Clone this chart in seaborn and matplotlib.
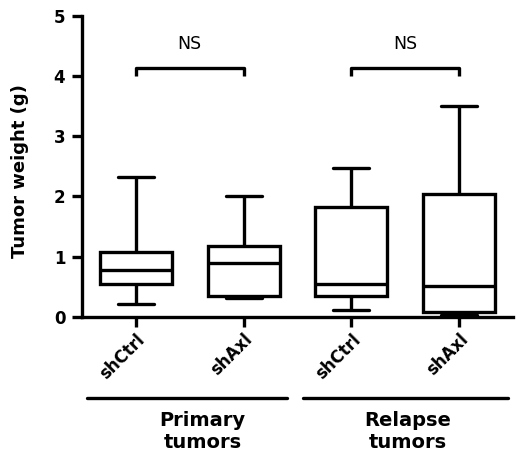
import matplotlib
matplotlib.use("Agg")
import matplotlib.pyplot as plt
import matplotlib.transforms as mtransforms
import seaborn as sns
import pandas as pd

# ---- data ----
categories = ["Primary shCtrl", "Primary shAxl", "Relapse shCtrl", "Relapse shAxl"]
tick_labels = ["shCtrl", "shAxl", "shCtrl", "shAxl"]
box_min = [0.21, 0.31, 0.11, 0.03]
box_q1 = [0.55, 0.35, 0.35, 0.07]
box_median = [0.77, 0.89, 0.55, 0.51]
box_q3 = [1.08, 1.18, 1.82, 2.04]
box_max = [2.33, 2.01, 2.47, 3.50]

group_names = ["Primary\ntumors", "Relapse\ntumors"]
comparisons = [(0, 1, "NS"), (2, 3, "NS")]
y_ticks = [0, 1, 2, 3, 4, 5]

# five values per group reproduce min/q1/median/q3/max exactly
rows = []
for i, c in enumerate(categories):
    for v in (box_min[i], box_q1[i], box_median[i], box_q3[i], box_max[i]):
        rows.append({"group": c, "weight": v})
df = pd.DataFrame(rows)

sns.set_style("ticks")
plt.rcParams["font.family"] = ["DejaVu Sans"]
for k in ["text.color", "axes.labelcolor", "xtick.color", "ytick.color",
          "axes.edgecolor"]:
    plt.rcParams[k] = "black"

fig = plt.figure(figsize=(5.17, 4.57), dpi=100)
ax = fig.add_axes([82 / 517, 1 - 316.7 / 457, 431 / 517, 300.7 / 457])

LW = 2.4
sns.boxplot(data=df, x="group", y="weight", order=categories, whis=(0, 100),
            width=0.67, color="white", linecolor="black", linewidth=LW,
            fliersize=0, ax=ax)

ax.set_xlim(-0.5, 3.5)
ax.set_ylim(0, 5)
ax.set_yticks(y_ticks)
ax.set_yticklabels([str(t) for t in y_ticks], fontweight="bold", fontsize=12)
ax.set_xticks(range(len(categories)))
ax.set_xticklabels(tick_labels, fontweight="bold", fontsize=12, rotation=45,
                   ha="right", va="top", rotation_mode="anchor")

ax.set_xlabel("")
ax.set_ylabel("Tumor weight (g)", fontweight="bold", fontsize=13)
ax.yaxis.set_label_coords(-0.122, 0.485)

for s in ["top", "right"]:
    ax.spines[s].set_visible(False)
for s in ["left", "bottom"]:
    ax.spines[s].set_linewidth(LW)
    ax.spines[s].set_color("black")
ax.tick_params(axis="both", width=LW, length=7, color="black")
ax.tick_params(axis="x", pad=3)
ax.tick_params(axis="y", pad=5)

# significance brackets
for a, b, txt in comparisons:
    ax.plot([a, a, b, b], [4.01, 4.13, 4.13, 4.01], color="black", lw=LW,
            solid_capstyle="butt", clip_on=False)
    ax.text((a + b) / 2, 4.53, txt, ha="center", va="center", fontsize=12.5)

# group lines and labels below the axis
trans = mtransforms.blended_transform_factory(ax.transData, ax.transAxes)
ax.plot([-0.455, 1.40], [-0.27, -0.27], color="black", lw=LW, transform=trans,
        clip_on=False)
ax.plot([1.55, 3.45], [-0.27, -0.27], color="black", lw=LW, transform=trans,
        clip_on=False)
ax.text(0.62, -0.315, group_names[0], transform=trans, ha="center", va="top",
        fontsize=14, fontweight="bold", linespacing=1.15)
ax.text(2.52, -0.315, group_names[1], transform=trans, ha="center", va="top",
        fontsize=14, fontweight="bold", linespacing=1.15)

fig.savefig("out.png", dpi=100)
